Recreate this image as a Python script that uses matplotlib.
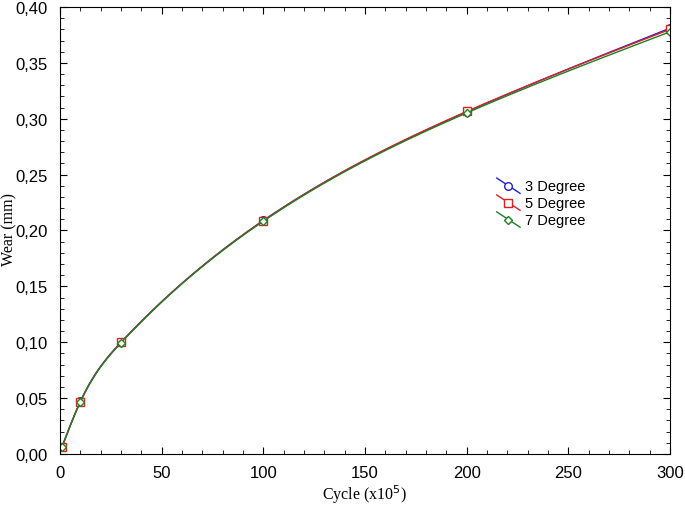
import numpy as np
import matplotlib.pyplot as plt
from matplotlib.ticker import MultipleLocator, FuncFormatter
from matplotlib.legend_handler import HandlerLine2D

cycles = np.array([1, 10, 30, 100, 200, 300])
wear_3 = np.array([0.0065, 0.0470, 0.1000, 0.2090, 0.3062, 0.3810])
wear_5 = np.array([0.0065, 0.0468, 0.0998, 0.2088, 0.3065, 0.3800])
wear_7 = np.array([0.0063, 0.0465, 0.0995, 0.2083, 0.3052, 0.3778])
labels = ['3 Degree', '5 Degree', '7 Degree']


def spline(x, y, xs):
    # natural cubic spline through the measured points (smooth line only)
    n = len(x)
    h = np.diff(x)
    A = np.zeros((n, n))
    r = np.zeros(n)
    A[0, 0] = A[-1, -1] = 1
    for i in range(1, n - 1):
        A[i, i - 1] = h[i - 1]
        A[i, i] = 2 * (h[i - 1] + h[i])
        A[i, i + 1] = h[i]
        r[i] = 6 * ((y[i + 1] - y[i]) / h[i] - (y[i] - y[i - 1]) / h[i - 1])
    M = np.linalg.solve(A, r)
    idx = np.clip(np.searchsorted(x, xs) - 1, 0, n - 2)
    a = x[idx + 1] - xs
    b = xs - x[idx]
    hh = h[idx]
    return (M[idx] * a**3 / (6 * hh) + M[idx + 1] * b**3 / (6 * hh)
            + (y[idx] / hh - M[idx] * hh / 6) * a + (y[idx + 1] / hh - M[idx + 1] * hh / 6) * b)


class DiagHandler(HandlerLine2D):
    # legend line drawn as a falling diagonal, marker in the middle
    def create_artists(self, legend, orig_handle, xdescent, ydescent, width, height, fontsize, trans):
        arts = super().create_artists(legend, orig_handle, xdescent, ydescent, width, height, fontsize, trans)
        for a in arts:
            n = len(a.get_xdata())
            a.set_ydata(np.linspace(height * 1.15, -height * 0.35, n))
        return arts


fig = plt.figure(figsize=(6.85, 5.06), dpi=100)
ax = fig.add_axes([0.0876, 0.1008, 0.8905, 0.8834])

xs = np.linspace(1, 300, 800)
styles = [('#2020d8', 'o'), ('#e02020', 's'), ('#208020', 'D')]
handles = []
for y, (c, mk), lab in zip([wear_3, wear_5, wear_7], styles, labels):
    ms = 5.5 if mk != 'D' else 4.5
    ax.plot(xs, spline(cycles.astype(float), y, xs), color=c, lw=1.0)
    ax.plot(cycles, y, ls='none', marker=mk, ms=ms,
            mfc='white', mec=c, mew=1.0)
    h, = ax.plot([], [], color=c, lw=1.0, marker=mk, ms=ms,
                 mfc='white', mec=c, mew=1.0, label=lab)
    handles.append(h)

ax.set_xlim(0, 300)
ax.set_ylim(0, 0.40)
ax.xaxis.set_major_locator(MultipleLocator(50))
ax.xaxis.set_minor_locator(MultipleLocator(10))
ax.yaxis.set_major_locator(MultipleLocator(0.05))
ax.yaxis.set_minor_locator(MultipleLocator(0.01))
ax.yaxis.set_major_formatter(FuncFormatter(lambda v, p: f'{v:.2f}'.replace('.', ',')))
ax.tick_params(which='both', direction='in', top=True, right=True,
               labelfontfamily='Liberation Sans', labelsize=12)
ax.tick_params(which='major', length=5)
ax.tick_params(which='minor', length=3)
ax.tick_params(axis='x', which='major', pad=8)
ax.tick_params(axis='y', which='major', pad=9)

fig.text(365 / 685, 1 - 495 / 506, 'Cycle (x10$^{5}$)', family='Liberation Serif',
         fontsize=11.5, ha='center', va='center')
fig.text(9 / 685, 1 - 230 / 506, 'Wear (mm)', family='Liberation Serif',
         fontsize=11.5, ha='center', va='center', rotation=90)

ax.legend(handles=handles, loc='upper left', bbox_to_anchor=(0.704, 0.632), frameon=False,
          prop={'family': 'Liberation Sans', 'size': 10.5}, handlelength=1.6,
          handletextpad=0.35, labelspacing=0.2, borderpad=0,
          handler_map={h: DiagHandler(numpoints=1) for h in handles})

fig.savefig('out.png', dpi=100)
